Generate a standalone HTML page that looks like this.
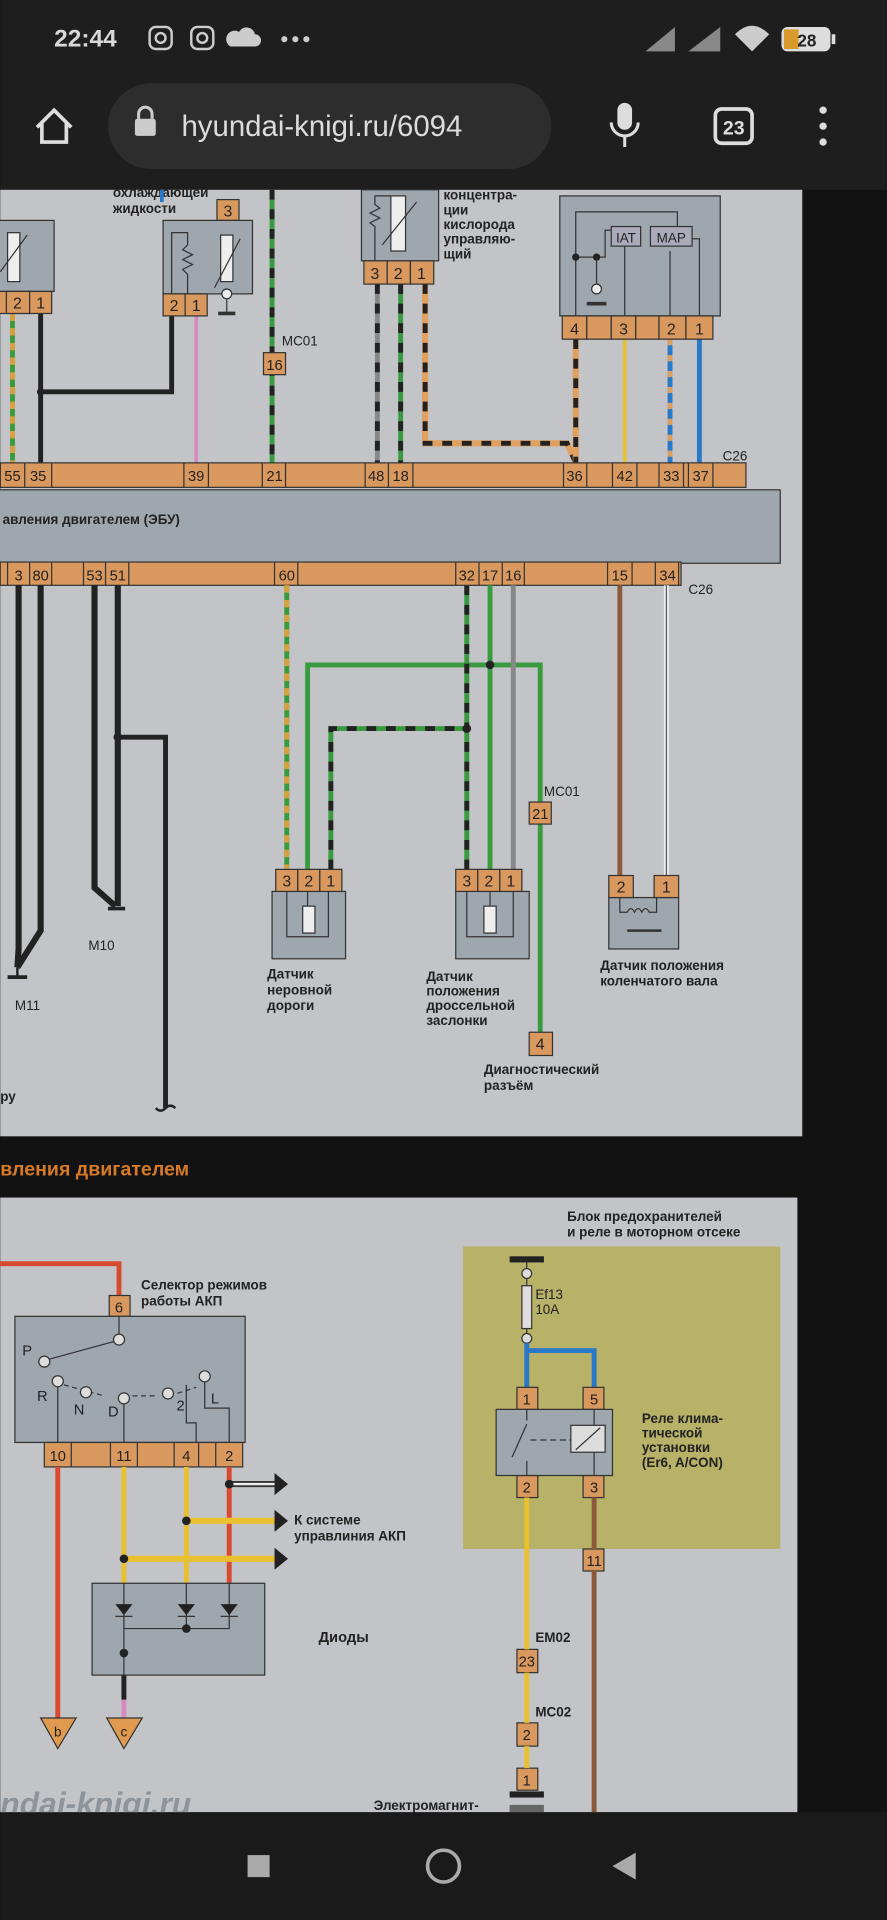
<!DOCTYPE html>
<html><head><meta charset="utf-8"><style>
html,body{margin:0;padding:0;background:#111;}
svg{display:block}
text{font-family:"Liberation Sans","DejaVu Sans",sans-serif;}
</style></head><body>
<svg width="887" height="1920" viewBox="0 0 724 1568" xmlns="http://www.w3.org/2000/svg">
<rect x="0" y="0" width="724" height="1568" fill="#121212"/>
<rect x="0" y="0" width="724" height="155" fill="#1e1e1e"/>
<text x="44" y="38" font-size="20" font-weight="bold" fill="#d8d8d8">22:44</text>
<rect x="122" y="22" width="18" height="18" rx="5" fill="none" stroke="#ccc" stroke-width="2"/><circle cx="131" cy="31" r="4" fill="none" stroke="#ccc" stroke-width="2"/>
<rect x="156" y="22" width="18" height="18" rx="5" fill="none" stroke="#ccc" stroke-width="2"/><circle cx="165" cy="31" r="4" fill="none" stroke="#ccc" stroke-width="2"/>
<path d="M188 38 h20 a5 5 0 0 0 0-10 a7 7 0 0 0-13-2 a5 5 0 0 0-7 12z" fill="#ccc"/>
<circle cx="232" cy="32" r="2.5" fill="#ccc"/><circle cx="241" cy="32" r="2.5" fill="#ccc"/><circle cx="250" cy="32" r="2.5" fill="#ccc"/>
<path d="M527 42 L551 22 L551 42z" fill="#888"/><path d="M562 42 L588 22 L588 42z" fill="#888"/>
<path d="M600 28 Q614 14 628 28 L614 42z" fill="#ccc"/>
<rect x="638" y="22" width="40" height="20" rx="5" fill="#ddd"/><rect x="640" y="24" width="12" height="16" fill="#d79a2a"/>
<text x="651" y="38" font-size="14" font-weight="bold" fill="#222">28</text>
<rect x="679" y="28" width="3" height="8" fill="#ddd"/>
<path d="M30 104 L44 90 L58 104 M34 100 V116 H54 V100" fill="none" stroke="#ddd" stroke-width="3"/>
<rect x="88" y="68" width="362" height="70" rx="35" fill="#2d2d2d"/>
<rect x="110" y="97" width="17" height="14" rx="2" fill="#ccc"/><path d="M113 97 v-4 a5.5 5.5 0 0 1 11 0 v4" fill="none" stroke="#ccc" stroke-width="2.5"/>
<text x="148" y="111" font-size="24" fill="#dcdcdc">hyundai-knigi.ru/6094</text>
<rect x="504" y="84" width="12" height="22" rx="6" fill="#ddd"/><path d="M499 100 a11 11 0 0 0 22 0 M510 111 v9" fill="none" stroke="#ddd" stroke-width="2.5"/>
<rect x="584" y="89" width="30" height="28" rx="5" fill="none" stroke="#ddd" stroke-width="3"/>
<text x="599" y="110" font-size="16" font-weight="bold" fill="#ddd" text-anchor="middle">23</text>
<circle cx="672" cy="90" r="3" fill="#ddd"/><circle cx="672" cy="103" r="3" fill="#ddd"/><circle cx="672" cy="116" r="3" fill="#ddd"/>

<rect x="0" y="155" width="655" height="773" fill="#c2c4c7"/>
<g font-size="11" fill="#222" font-weight="bold">
<text x="92" y="161">охлаждающей</text><text x="92" y="174">жидкости</text>
<text x="362" y="163">концентра-</text><text x="362" y="175">ции</text><text x="362" y="187">кислорода</text><text x="362" y="199">управляю-</text><text x="362" y="211">щий</text>
</g>
<g fill="none">
<line x1="10" y1="256" x2="10" y2="378" stroke="#3a9a40" stroke-width="4"/><line x1="10" y1="256" x2="10" y2="378" stroke="#d9a040" stroke-width="4" stroke-dasharray="6 6"/>
<path d="M33 256 V378 M33 320 H140 V258" stroke="#222" stroke-width="4"/>
<line x1="160" y1="258" x2="160" y2="378" stroke="#d88ac0" stroke-width="3"/>
<line x1="132" y1="155" x2="132" y2="165" stroke="#2a78c8" stroke-width="3"/>
<line x1="222" y1="155" x2="222" y2="378" stroke="#3a9a40" stroke-width="4"/><line x1="222" y1="155" x2="222" y2="378" stroke="#222" stroke-width="4" stroke-dasharray="8 8"/>
<line x1="308" y1="232" x2="308" y2="378" stroke="#888" stroke-width="4"/><line x1="308" y1="232" x2="308" y2="378" stroke="#222" stroke-width="4" stroke-dasharray="8 8"/>
<line x1="327" y1="232" x2="327" y2="378" stroke="#3a9a40" stroke-width="4"/><line x1="327" y1="232" x2="327" y2="378" stroke="#222" stroke-width="4" stroke-dasharray="8 8"/>
<path d="M347 232 V362 H463 L470 378" stroke="#e0a060" stroke-width="5"/><path d="M347 232 V362 H463 L470 378" stroke="#222" stroke-width="4" stroke-dasharray="8 8"/>
<line x1="470" y1="277" x2="470" y2="378" stroke="#e0a060" stroke-width="5"/><line x1="470" y1="277" x2="470" y2="378" stroke="#222" stroke-width="4" stroke-dasharray="8 8"/>
<line x1="510" y1="277" x2="510" y2="378" stroke="#e8c030" stroke-width="3"/>
<line x1="547" y1="277" x2="547" y2="378" stroke="#2a78c8" stroke-width="4"/><line x1="547" y1="277" x2="547" y2="378" stroke="#d9a060" stroke-width="4" stroke-dasharray="5 8"/>
<line x1="571" y1="277" x2="571" y2="378" stroke="#2a78c8" stroke-width="4"/>
</g>
<circle cx="33" cy="320" r="3" fill="#222"/>
<rect x="-2" y="180" width="46" height="58" fill="#9ea6ae" stroke="#333"/>
<rect x="6" y="190" width="10" height="40" fill="#eee" stroke="#333"/><line x1="0" y1="222" x2="22" y2="192" stroke="#333"/>
<g fill="#d9995e" stroke="#333"><rect x="-2" y="238" width="26" height="18"/><rect x="5" y="238" width="19" height="18"/><rect x="24" y="238" width="18" height="18"/></g>
<text x="14" y="252" font-size="13" text-anchor="middle" fill="#222">2</text><text x="33" y="252" font-size="13" text-anchor="middle" fill="#222">1</text>
<rect x="177" y="163" width="18" height="17" fill="#d9995e" stroke="#333"/><text x="186" y="177" font-size="13" text-anchor="middle" fill="#222">3</text>
<rect x="133" y="180" width="73" height="60" fill="#9ea6ae" stroke="#333"/>
<path d="M140 240 V190 H153 V200 l-4 4 8 4 -8 4 8 4 -8 4 4 4 V240" fill="none" stroke="#333"/>
<rect x="180" y="192" width="10" height="38" fill="#eee" stroke="#333"/><line x1="175" y1="235" x2="196" y2="195" stroke="#333"/>
<circle cx="185" cy="240" r="4" fill="#eee" stroke="#333"/><line x1="178" y1="256" x2="192" y2="256" stroke="#333" stroke-width="3"/><line x1="185" y1="244" x2="185" y2="256" stroke="#333"/>
<g fill="#d9995e" stroke="#333"><rect x="133" y="240" width="18" height="18"/><rect x="151" y="240" width="18" height="18"/></g>
<text x="142" y="254" font-size="13" text-anchor="middle" fill="#222">2</text><text x="160" y="254" font-size="13" text-anchor="middle" fill="#222">1</text>
<text x="230" y="282" font-size="11" fill="#222">MC01</text>
<rect x="215" y="288" width="18" height="18" fill="#d9995e" stroke="#333"/><text x="224" y="302" font-size="12" text-anchor="middle" fill="#222">16</text>
<rect x="295" y="155" width="63" height="58" fill="#9ea6ae" stroke="#333"/>
<path d="M306 213 V185 l-4 -3 8 -4 -8 -4 8 -4 -4 -3 V160 H319" fill="none" stroke="#333"/>
<rect x="319" y="160" width="12" height="45" fill="#eee" stroke="#333"/><line x1="312" y1="200" x2="340" y2="165" stroke="#333"/>
<g fill="#d9995e" stroke="#333"><rect x="297" y="213" width="19" height="19"/><rect x="316" y="213" width="19" height="19"/><rect x="335" y="213" width="19" height="19"/></g>
<text x="306" y="228" font-size="13" text-anchor="middle" fill="#222">3</text><text x="325" y="228" font-size="13" text-anchor="middle" fill="#222">2</text><text x="344" y="228" font-size="13" text-anchor="middle" fill="#222">1</text>
<rect x="457" y="160" width="131" height="98" fill="#9ea6ae" stroke="#333"/>
<path d="M470 258 V173 H553 V185 M510 258 V195 M547 258 V205 M571 258 V195 H562" fill="none" stroke="#333"/>
<path d="M470 210 H494 V188 H499" fill="none" stroke="#333"/>
<rect x="499" y="185" width="24" height="16" fill="#aab" stroke="#333"/><text x="511" y="198" font-size="11" text-anchor="middle" fill="#222">IAT</text>
<rect x="531" y="185" width="34" height="16" fill="#aab" stroke="#333"/><text x="548" y="198" font-size="11" text-anchor="middle" fill="#222">MAP</text>
<circle cx="470" cy="210" r="3" fill="#222"/><circle cx="487" cy="210" r="3" fill="#222"/><line x1="487" y1="210" x2="487" y2="238" stroke="#333"/>
<circle cx="487" cy="236" r="4" fill="#eee" stroke="#333"/><line x1="479" y1="248" x2="495" y2="248" stroke="#333" stroke-width="3"/>
<g fill="#d9995e" stroke="#333"><rect x="459" y="258" width="20" height="19"/><rect x="479" y="258" width="20" height="19"/><rect x="499" y="258" width="20" height="19"/><rect x="519" y="258" width="19" height="19"/><rect x="538" y="258" width="22" height="19"/><rect x="560" y="258" width="22" height="19"/></g>
<text x="469" y="273" font-size="13" text-anchor="middle" fill="#222">4</text><text x="509" y="273" font-size="13" text-anchor="middle" fill="#222">3</text><text x="548" y="273" font-size="13" text-anchor="middle" fill="#222">2</text><text x="571" y="273" font-size="13" text-anchor="middle" fill="#222">1</text>
<rect x="0" y="378" width="609" height="20" fill="#d9995e" stroke="#333"/>
<g fill="none" stroke="#333"><path d="M0 378 v20 M20 378 v20 M42 378 v20 M150 378 v20 M170 378 v20 M214 378 v20 M233 378 v20 M298 378 v20 M317 378 v20 M337 378 v20 M460 378 v20 M479 378 v20 M500 378 v20 M520 378 v20 M538 378 v20 M558 378 v20 M562 378 v20 M582 378 v20"/></g>
<g font-size="12" fill="#222" text-anchor="middle"><text x="10" y="393">55</text><text x="31" y="393">35</text><text x="160" y="393">39</text><text x="224" y="393">21</text><text x="307" y="393">48</text><text x="327" y="393">18</text><text x="469" y="393">36</text><text x="510" y="393">42</text><text x="548" y="393">33</text><text x="572" y="393">37</text></g>
<text x="590" y="376" font-size="11" fill="#222">C26</text>
<rect x="-2" y="400" width="639" height="60" fill="#9ea6ae" stroke="#333"/>
<text x="2" y="428" font-size="11" fill="#222" font-weight="bold">авления двигателем (ЭБУ)</text>
<rect x="0" y="459" width="556" height="19" fill="#d9995e" stroke="#333"/>
<g fill="none" stroke="#333"><path d="M6 459 v19 M24 459 v19 M42 459 v19 M68 459 v19 M86 459 v19 M105 459 v19 M224 459 v19 M243 459 v19 M372 459 v19 M391 459 v19 M410 459 v19 M428 459 v19 M496 459 v19 M516 459 v19 M535 459 v19 M554 459 v19"/></g>
<g font-size="12" fill="#222" text-anchor="middle"><text x="15" y="474">3</text><text x="33" y="474">80</text><text x="77" y="474">53</text><text x="96" y="474">51</text><text x="234" y="474">60</text><text x="381" y="474">32</text><text x="400" y="474">17</text><text x="419" y="474">16</text><text x="506" y="474">15</text><text x="545" y="474">34</text></g>
<text x="562" y="485" font-size="11" fill="#222">C26</text>
<g fill="none">
<path d="M15 478 V775 L14 790 M33 478 V760 L14 790" stroke="#222" stroke-width="5"/>
<path d="M77 478 V725 L94 740 M96 478 V740" stroke="#222" stroke-width="5"/>
<path d="M96 602 H135 V905" stroke="#222" stroke-width="4"/>
<path d="M234 478 V710" stroke="#3a9a40" stroke-width="4"/><path d="M234 478 V710" stroke="#d9a040" stroke-width="4" stroke-dasharray="6 6"/>
<path d="M251 710 V543 H441 V845" stroke="#3a9a40" stroke-width="4"/>
<path d="M270 710 V595 H381" stroke="#3a9a40" stroke-width="4"/><path d="M270 710 V595 H381" stroke="#222" stroke-width="4" stroke-dasharray="8 8"/>
<path d="M381 478 V710" stroke="#3a9a40" stroke-width="4"/><path d="M381 478 V710" stroke="#222" stroke-width="4" stroke-dasharray="8 8"/>
<path d="M400 478 V710" stroke="#3a9a40" stroke-width="4"/>
<path d="M419 478 V710" stroke="#888" stroke-width="4"/>
<path d="M506 478 V715" stroke="#8b5a3a" stroke-width="4"/>
<path d="M544 478 V715" stroke="#eee" stroke-width="4"/><path d="M544 478 V715" stroke="#555" stroke-width="1"/>
</g>
<circle cx="400" cy="543" r="3.5" fill="#222"/><circle cx="381" cy="595" r="3.5" fill="#222"/><circle cx="96" cy="602" r="3.5" fill="#222"/>
<line x1="14" y1="790" x2="14" y2="798" stroke="#222" stroke-width="2"/><line x1="6" y1="798" x2="22" y2="798" stroke="#222" stroke-width="3"/>
<line x1="88" y1="742" x2="102" y2="742" stroke="#222" stroke-width="3"/>
<path d="M127 905 q4 4 8 0 q4 -4 8 0" fill="none" stroke="#222" stroke-width="2"/>
<text x="12" y="825" font-size="11" fill="#222">M11</text><text x="72" y="776" font-size="11" fill="#222">M10</text>
<text x="0" y="899" font-size="11" fill="#222" font-weight="bold">ру</text>
<text x="444" y="650" font-size="11" fill="#222">MC01</text>
<rect x="432" y="655" width="18" height="18" fill="#d9995e" stroke="#333"/><text x="441" y="669" font-size="12" text-anchor="middle" fill="#222">21</text>
<rect x="222" y="728" width="60" height="55" fill="#9ea6ae" stroke="#333"/>
<path d="M234 728 V765 H268 V728 M251 728 V740" fill="none" stroke="#333"/><rect x="247" y="740" width="10" height="22" fill="#eee" stroke="#333"/>
<g fill="#d9995e" stroke="#333"><rect x="225" y="710" width="18" height="18"/><rect x="243" y="710" width="18" height="18"/><rect x="261" y="710" width="18" height="18"/></g>
<text x="234" y="724" font-size="13" text-anchor="middle" fill="#222">3</text><text x="252" y="724" font-size="13" text-anchor="middle" fill="#222">2</text><text x="270" y="724" font-size="13" text-anchor="middle" fill="#222">1</text>
<g font-size="11" fill="#222" font-weight="bold"><text x="218" y="799">Датчик</text><text x="218" y="812">неровной</text><text x="218" y="825">дороги</text></g>
<rect x="372" y="728" width="60" height="55" fill="#9ea6ae" stroke="#333"/>
<path d="M381 728 V765 H419 V728 M400 728 V740" fill="none" stroke="#333"/><rect x="395" y="740" width="10" height="22" fill="#eee" stroke="#333"/>
<g fill="#d9995e" stroke="#333"><rect x="372" y="710" width="18" height="18"/><rect x="390" y="710" width="18" height="18"/><rect x="408" y="710" width="18" height="18"/></g>
<text x="381" y="724" font-size="13" text-anchor="middle" fill="#222">3</text><text x="399" y="724" font-size="13" text-anchor="middle" fill="#222">2</text><text x="417" y="724" font-size="13" text-anchor="middle" fill="#222">1</text>
<g font-size="11" fill="#222" font-weight="bold"><text x="348" y="801">Датчик</text><text x="348" y="813">положения</text><text x="348" y="825">дроссельной</text><text x="348" y="837">заслонки</text></g>
<rect x="432" y="843" width="19" height="19" fill="#d9995e" stroke="#333"/><text x="441" y="857" font-size="13" text-anchor="middle" fill="#222">4</text>
<g font-size="11" fill="#222" font-weight="bold"><text x="395" y="877">Диагностический</text><text x="395" y="890">разъём</text></g>
<rect x="497" y="733" width="57" height="42" fill="#9ea6ae" stroke="#333"/>
<path d="M506 733 v12 h6 q3 -6 6 0 q3 -6 6 0 q3 -6 6 0 h6 V733" fill="none" stroke="#333"/><line x1="512" y1="760" x2="540" y2="760" stroke="#333" stroke-width="2"/>
<g fill="#d9995e" stroke="#333"><rect x="497" y="715" width="20" height="18"/><rect x="534" y="715" width="20" height="18"/></g>
<text x="507" y="729" font-size="13" text-anchor="middle" fill="#222">2</text><text x="544" y="729" font-size="13" text-anchor="middle" fill="#222">1</text>
<g font-size="11" fill="#222" font-weight="bold"><text x="490" y="792">Датчик положения</text><text x="490" y="805">коленчатого вала</text></g>

<text x="0" y="960" font-size="16" font-weight="bold" fill="#d67a28">вления двигателем</text>

<rect x="0" y="978" width="651" height="502" fill="#c2c4c7"/>
<g font-size="11" fill="#222" font-weight="bold"><text x="463" y="997">Блок предохранителей</text><text x="463" y="1010">и реле в моторном отсеке</text></g>
<rect x="378" y="1018" width="259" height="247" fill="#b8b168"/>
<path d="M0 1032 H97 V1058" fill="none" stroke="#d84a30" stroke-width="4"/>
<rect x="89" y="1058" width="17" height="17" fill="#d9995e" stroke="#333"/><text x="97" y="1072" font-size="12" text-anchor="middle" fill="#222">6</text>
<g font-size="11" fill="#222" font-weight="bold"><text x="115" y="1053">Селектор режимов</text><text x="115" y="1066">работы АКП</text></g>
<rect x="12" y="1075" width="188" height="103" fill="#9ea6ae" stroke="#333"/>
<g fill="none" stroke="#333">
<line x1="97" y1="1075" x2="97" y2="1090"/><line x1="95" y1="1095" x2="40" y2="1110"/>
<path d="M47 1131 V1178 M101 1146 V1178 M152 1131 V1162 H160 V1178 M167 1126 V1150 H187 V1178"/>
<path d="M52 1131 L85 1140 M108 1140 L128 1140 M138 1140 L160 1133" stroke-dasharray="4 3"/>
</g>
<g fill="#ddd" stroke="#333"><circle cx="97" cy="1094" r="4.5"/><circle cx="36" cy="1112" r="4.5"/><circle cx="47" cy="1128" r="4.5"/><circle cx="70" cy="1137" r="4.5"/><circle cx="101" cy="1142" r="4.5"/><circle cx="137" cy="1138" r="4.5"/><circle cx="167" cy="1124" r="4.5"/></g>
<g font-size="12" fill="#222"><text x="18" y="1107">P</text><text x="30" y="1144">R</text><text x="60" y="1155">N</text><text x="88" y="1157">D</text><text x="144" y="1152">2</text><text x="172" y="1146">L</text></g>
<rect x="36" y="1178" width="162" height="20" fill="#d9995e" stroke="#333"/>
<g fill="none" stroke="#333"><path d="M58 1178 v20 M90 1178 v20 M112 1178 v20 M142 1178 v20 M162 1178 v20 M176 1178 v20"/></g>
<g font-size="12" fill="#222" text-anchor="middle"><text x="47" y="1193">10</text><text x="101" y="1193">11</text><text x="152" y="1193">4</text><text x="187" y="1193">2</text></g>
<g fill="none">
<path d="M47 1198 V1405" stroke="#d84a30" stroke-width="4"/>
<path d="M101 1198 V1293" stroke="#e8c030" stroke-width="4"/>
<path d="M152 1198 V1293" stroke="#e8c030" stroke-width="4"/>
<path d="M187 1198 V1293" stroke="#d84a30" stroke-width="4"/>
<path d="M101 1368 V1403" stroke="#d88ac0" stroke-width="4"/><path d="M101 1368 V1388" stroke="#222" stroke-width="4"/>
<path d="M152 1242 H225" stroke="#e8c030" stroke-width="5"/>
<path d="M101 1273 H225" stroke="#e8c030" stroke-width="5"/>
<path d="M187 1212 H225" stroke="#333" stroke-width="5"/><path d="M187 1212 H225" stroke="#eee" stroke-width="2"/>
</g>
<g fill="#222"><path d="M224 1203 L235 1212 L224 1221z"/><path d="M224 1233 L235 1242 L224 1251z"/><path d="M224 1264 L235 1273 L224 1282z"/>
<circle cx="187" cy="1212" r="3.5"/><circle cx="152" cy="1242" r="3.5"/><circle cx="101" cy="1273" r="3.5"/></g>
<g font-size="11" fill="#222" font-weight="bold"><text x="240" y="1245">К системе</text><text x="240" y="1258">управлиния АКП</text></g>
<rect x="75" y="1293" width="141" height="75" fill="#9ea6ae" stroke="#333"/>
<g fill="none" stroke="#333"><path d="M101 1293 V1368 M152 1293 V1330 M187 1293 V1330 H101 M94 1320 h14 M145 1320 h14 M180 1320 h14"/></g>
<g fill="#222"><path d="M94 1310 h14 l-7 9z"/><path d="M145 1310 h14 l-7 9z"/><path d="M180 1310 h14 l-7 9z"/><circle cx="101" cy="1350" r="3.5"/><circle cx="152" cy="1330" r="3.5"/></g>
<text x="260" y="1341" font-size="12" fill="#222" font-weight="bold">Диоды</text>
<path d="M33 1403 H62 L47 1428z" fill="#e09a50" stroke="#333"/><text x="47" y="1418" font-size="11" text-anchor="middle" fill="#222">b</text>
<path d="M87 1403 H116 L101 1428z" fill="#e09a50" stroke="#333"/><text x="101" y="1418" font-size="11" text-anchor="middle" fill="#222">c</text>
<rect x="416" y="1026" width="28" height="5" fill="#222"/>
<line x1="430" y1="1031" x2="430" y2="1133" stroke="#333"/>
<circle cx="430" cy="1040" r="4" fill="#ddd" stroke="#333"/><rect x="426" y="1050" width="8" height="35" fill="#ddd" stroke="#333"/><circle cx="430" cy="1093" r="4" fill="#ddd" stroke="#333"/>
<g font-size="11" fill="#222"><text x="437" y="1061">Ef13</text><text x="437" y="1073">10A</text></g>
<path d="M430 1097 V1133 M430 1103 H485 V1133" fill="none" stroke="#2a78c8" stroke-width="4"/>
<g fill="#d9995e" stroke="#333"><rect x="422" y="1133" width="17" height="18"/><rect x="476" y="1133" width="17" height="18"/><rect x="422" y="1205" width="17" height="18"/><rect x="476" y="1205" width="17" height="18"/><rect x="476" y="1265" width="17" height="18"/><rect x="422" y="1347" width="17" height="19"/><rect x="422" y="1407" width="17" height="19"/><rect x="422" y="1444" width="17" height="18"/></g>
<g font-size="12" fill="#222" text-anchor="middle"><text x="430" y="1147">1</text><text x="485" y="1147">5</text><text x="430" y="1219">2</text><text x="485" y="1219">3</text><text x="485" y="1279">11</text><text x="430" y="1361">23</text><text x="430" y="1421">2</text><text x="430" y="1458">1</text></g>
<rect x="405" y="1151" width="95" height="54" fill="#9ea6ae" stroke="#333"/>
<g fill="none" stroke="#333"><path d="M430 1151 V1160 M418 1190 L430 1163 M430 1193 V1205 M485 1151 V1205"/><path d="M433 1176 H466" stroke-dasharray="5 3"/></g>
<rect x="466" y="1164" width="28" height="22" fill="#ddd" stroke="#333"/><line x1="470" y1="1184" x2="490" y2="1166" stroke="#333"/>
<g font-size="11" fill="#222" font-weight="bold"><text x="524" y="1162">Реле клима-</text><text x="524" y="1174">тической</text><text x="524" y="1186">установки</text><text x="524" y="1198">(Er6, A/CON)</text></g>
<path d="M430 1223 V1347 M430 1366 V1407 M430 1426 V1444" stroke="#e8c030" stroke-width="4" fill="none"/>
<path d="M485 1223 V1265 M485 1283 V1480" stroke="#8b5a3a" stroke-width="4" fill="none"/>
<g font-size="11" fill="#222" font-weight="bold"><text x="437" y="1341">EM02</text><text x="437" y="1402">MC02</text><text x="305" y="1478">Электромагнит-</text></g>
<rect x="416" y="1463" width="28" height="5" fill="#222"/><rect x="416" y="1474" width="28" height="6" fill="#666"/>
<text x="0" y="1482" font-size="26" font-style="italic" font-weight="bold" fill="#8e949c">ndai-knigi.ru</text>
<rect x="0" y="1480" width="724" height="88" fill="#1a1a1a"/>
<rect x="202" y="1515" width="18" height="18" fill="#aaa"/>
<circle cx="362" cy="1524" r="13" fill="none" stroke="#aaa" stroke-width="3"/>
<path d="M519 1513 L500 1524 L519 1535z" fill="#aaa"/>
</svg>
</body></html>
